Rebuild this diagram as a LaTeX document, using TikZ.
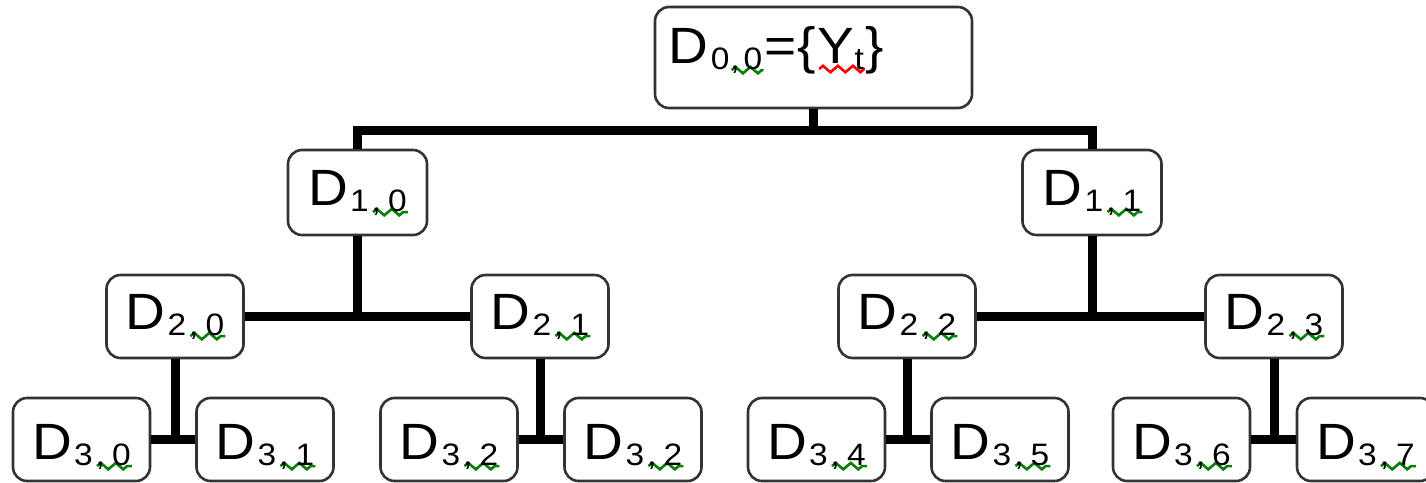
\documentclass[tikz,border=0pt]{standalone}
\usepackage{fontspec}
\setmainfont{Liberation Sans}[FakeStretch=1.08]
\usetikzlibrary{decorations.pathmorphing}

\definecolor{spellgreen}{RGB}{0,128,0}
\definecolor{spellred}{RGB}{255,0,0}

% lowered, smaller index text
\newcommand\subs[1]{\raisebox{-0.12em}{\fontsize{31}{31}\selectfont #1}}
% wavy proofing underline: #1 colour, #2 drop below baseline, #3 text
\newcommand\wavy[3]{%
  \setbox0\hbox{#3}%
  \rlap{\tikz[baseline=0pt]\draw[#1,sharp corners,line width=2.6pt,line join=miter,
      decorate,decoration={zigzag,segment length=15pt,amplitude=3.2pt}]
      (0pt,-#2) -- (\wd0,-#2);}%
  \box0}
% D with a two-part index
\newcommand\lab[2]{D\kern2pt\subs{#1\kern3pt\wavy{spellgreen}{1pt}{,\kern7pt#2}}}

\tikzset{
  box/.style={draw=black!80, line width=2.6pt, rounded corners=14pt,
    fill=white, inner xsep=4pt, inner ysep=0pt,
    font=\fontsize{51}{60}\selectfont},
  lvlone/.style={box, minimum width=139pt, minimum height=85pt,
    text height=37pt, text depth=12pt},
  lvltwo/.style={box, minimum width=137pt, minimum height=83pt,
    text height=37pt, text depth=12pt},
  lvlthree/.style={box, minimum width=137pt, minimum height=83pt,
    text height=44pt, text depth=5pt},
  rootbox/.style={box, minimum width=317pt, minimum height=101pt,
    inner xsep=13pt, text width=291pt, align=left,
    text height=37pt, text depth=26pt},
  conn/.style={line width=9pt, black, line join=miter}
}

\begin{document}
\begin{tikzpicture}[x=1pt,y=-1pt]
\useasboundingbox (0,0) rectangle (1426,482);
\fill[white] (0,0) rectangle (1426,482);

% root
\node[rootbox] (d00) at (813.5,57.5)
  {D\kern3pt\subs{0\kern1pt\wavy{spellgreen}{1pt}{,\kern4pt0}}\kern2pt=\kern1pt\{\kern2pt\wavy{spellred}{6pt}{Y\subs{t}}\kern2pt\}};

% level 1
\node[lvlone] (d10) at (357.5,192.5) {\lab{1}{0}};
\node[lvlone] (d11) at (1092,192.5) {\lab{1}{1}};

% level 2
\node[lvltwo] (d20) at (175,316.5) {\lab{2}{0}};
\node[lvltwo] (d21) at (540,316.5) {\lab{2}{1}};
\node[lvltwo] (d22) at (907,316.5) {\lab{2}{2}};
\node[lvltwo] (d23) at (1274,316.5) {\lab{2}{3}};

% level 3
\node[lvlthree] (d30) at (81.5,439.5) {\lab{3}{0}};
\node[lvlthree] (d31) at (265,439.5) {\lab{3}{1}};
\node[lvlthree] (d32) at (449,439.5) {\lab{3}{2}};
\node[lvlthree] (d33) at (633,439.5) {\lab{3}{2}};
\node[lvlthree] (d34) at (816.5,439.5) {\lab{3}{4}};
\node[lvlthree] (d35) at (1000,439.5) {\lab{3}{5}};
\node[lvlthree] (d36) at (1181.5,439.5) {\lab{3}{6}};
\node[lvlthree] (d37) at (1365.5,439.5) {\lab{3}{7}};

% root to level 1
\coordinate (j0) at (813.5,130);
\draw[conn] (d00.south) -- (j0);
\draw[conn] (d10.north) |- (j0) -| (d11.north);

% level 1 to level 2
\draw[conn] (d20.east) -- (d21.west);
\draw[conn] (d10.south) -- (d10.south |- d20.east);
\draw[conn] (d22.east) -- (d23.west);
\draw[conn] (d11.south) -- (d11.south |- d22.east);

% level 2 to level 3
\draw[conn] (d30.east) -- (d31.west);
\draw[conn] (d20.south) -- (d20.south |- d30.east);
\draw[conn] (d32.east) -- (d33.west);
\draw[conn] (d21.south) -- (d21.south |- d32.east);
\draw[conn] (d34.east) -- (d35.west);
\draw[conn] (d22.south) -- (d22.south |- d34.east);
\draw[conn] (d36.east) -- (d37.west);
\draw[conn] (d23.south) -- (d23.south |- d36.east);
\end{tikzpicture}
\end{document}
